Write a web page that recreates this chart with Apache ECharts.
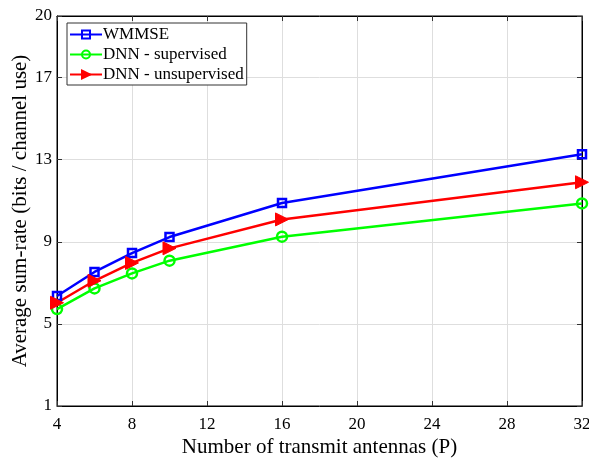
<!DOCTYPE html>
<html><head><meta charset="utf-8">
<script src="https://cdn.jsdelivr.net/npm/echarts@6/dist/echarts.min.js"></script>
<style>html,body{margin:0;padding:0;background:#fff}#c{width:589px;height:458px}</style>
</head><body><div id="c"></div>
<script>
const antennas = [4, 6, 8, 10, 16, 32];
const wmmse = [6.36, 7.53, 8.45, 9.23, 10.89, 13.27];
const dnnSup = [5.72, 6.73, 7.46, 8.08, 9.25, 10.87];
const dnnUnsup = [6.03, 7.10, 7.97, 8.68, 10.09, 11.90];
const yTicks = [1, 5, 9, 13, 17, 20];
const xTicks = [4, 8, 12, 16, 20, 24, 28, 32];

const font = 'Liberation Serif';
const pair = (arr) => antennas.map((x, i) => [x, arr[i]]);
const chart = echarts.init(document.getElementById('c'));
const gridLine = {show: true, lineStyle: {color: '#dedede', width: 1}};
chart.setOption({
  animation: false,
  textStyle: {fontFamily: font},
  grid: {left: 57, right: 7, top: 16, bottom: 52, outerBoundsMode: 'none', containLabel: false,
    show: true, borderColor: '#000', borderWidth: 1, backgroundColor: 'transparent'},
  legend: {
    left: 67, top: 23, orient: 'vertical', itemWidth: 32, itemHeight: 10, itemGap: 3,
    backgroundColor: '#fff', borderColor: '#333', borderWidth: 1, padding: [3, 3, 2, 2],
    textStyle: {fontFamily: font, fontSize: 17, color: '#000', padding: [0, 0, 0, -4]},
    data: ['WMMSE', 'DNN - supervised', 'DNN - unsupervised']
  },
  xAxis: [{
    type: 'value', min: 4, max: 32, interval: 4,
    name: 'Number of transmit antennas (P)', nameLocation: 'middle', nameGap: 31, nameMoveOverlap: false,
    nameTextStyle: {fontFamily: font, fontSize: 21, color: '#000'},
    axisLine: {show: true, onZero: false, lineStyle: {color: '#000'}},
    axisTick: {show: true, inside: true, length: 5, customValues: xTicks, lineStyle: {color: '#333'}},
    axisLabel: {fontFamily: font, fontSize: 17, color: '#000', margin: 10, customValues: xTicks},
    splitLine: gridLine
  }, {
    type: 'value', min: 4, max: 32, interval: 4, position: 'top',
    axisLine: {show: true, lineStyle: {color: '#000'}},
    axisTick: {show: true, inside: true, length: 5, lineStyle: {color: '#333'}},
    axisLabel: {show: false}, splitLine: {show: false}
  }],
  yAxis: [{
    type: 'value', min: 1, max: 20,
    name: 'Average sum-rate (bits / channel use)', nameLocation: 'middle', nameGap: 26, nameMoveOverlap: false,
    nameTextStyle: {fontFamily: font, fontSize: 21, color: '#000'},
    axisLine: {show: true, onZero: false, lineStyle: {color: '#000'}},
    axisTick: {show: true, inside: true, length: 5, customValues: yTicks, lineStyle: {color: '#333'}},
    axisLabel: {fontFamily: font, fontSize: 17, color: '#000', margin: 5, customValues: yTicks},
    splitLine: gridLine
  }, {
    type: 'value', min: 1, max: 20, position: 'right',
    axisLine: {show: true, lineStyle: {color: '#000'}},
    axisTick: {show: true, inside: true, length: 5, customValues: yTicks, lineStyle: {color: '#333'}},
    axisLabel: {show: false, customValues: yTicks}, splitLine: {show: false}
  }],
  series: [{
    name: 'WMMSE', type: 'line', data: pair(wmmse),
    symbol: 'rect', symbolSize: 8, color: '#0000ff',
    lineStyle: {width: 2.5, color: '#0000ff'},
    itemStyle: {color: 'rgba(0,0,0,0)', borderColor: '#0000ff', borderWidth: 2.5}
  }, {
    name: 'DNN - supervised', type: 'line', data: pair(dnnSup),
    symbol: 'circle', symbolSize: 10, color: '#00ff00',
    lineStyle: {width: 2.5, color: '#00ff00'},
    itemStyle: {color: 'rgba(0,0,0,0)', borderColor: '#00ff00', borderWidth: 2.5}
  }, {
    name: 'DNN - unsupervised', type: 'line', data: pair(dnnUnsup),
    symbol: 'triangle', symbolRotate: -90, symbolSize: 13, color: '#ff0000',
    lineStyle: {width: 2.5, color: '#ff0000'},
    itemStyle: {color: '#ff0000', borderColor: '#ff0000', borderWidth: 1}
  }]
});
</script></body></html>
